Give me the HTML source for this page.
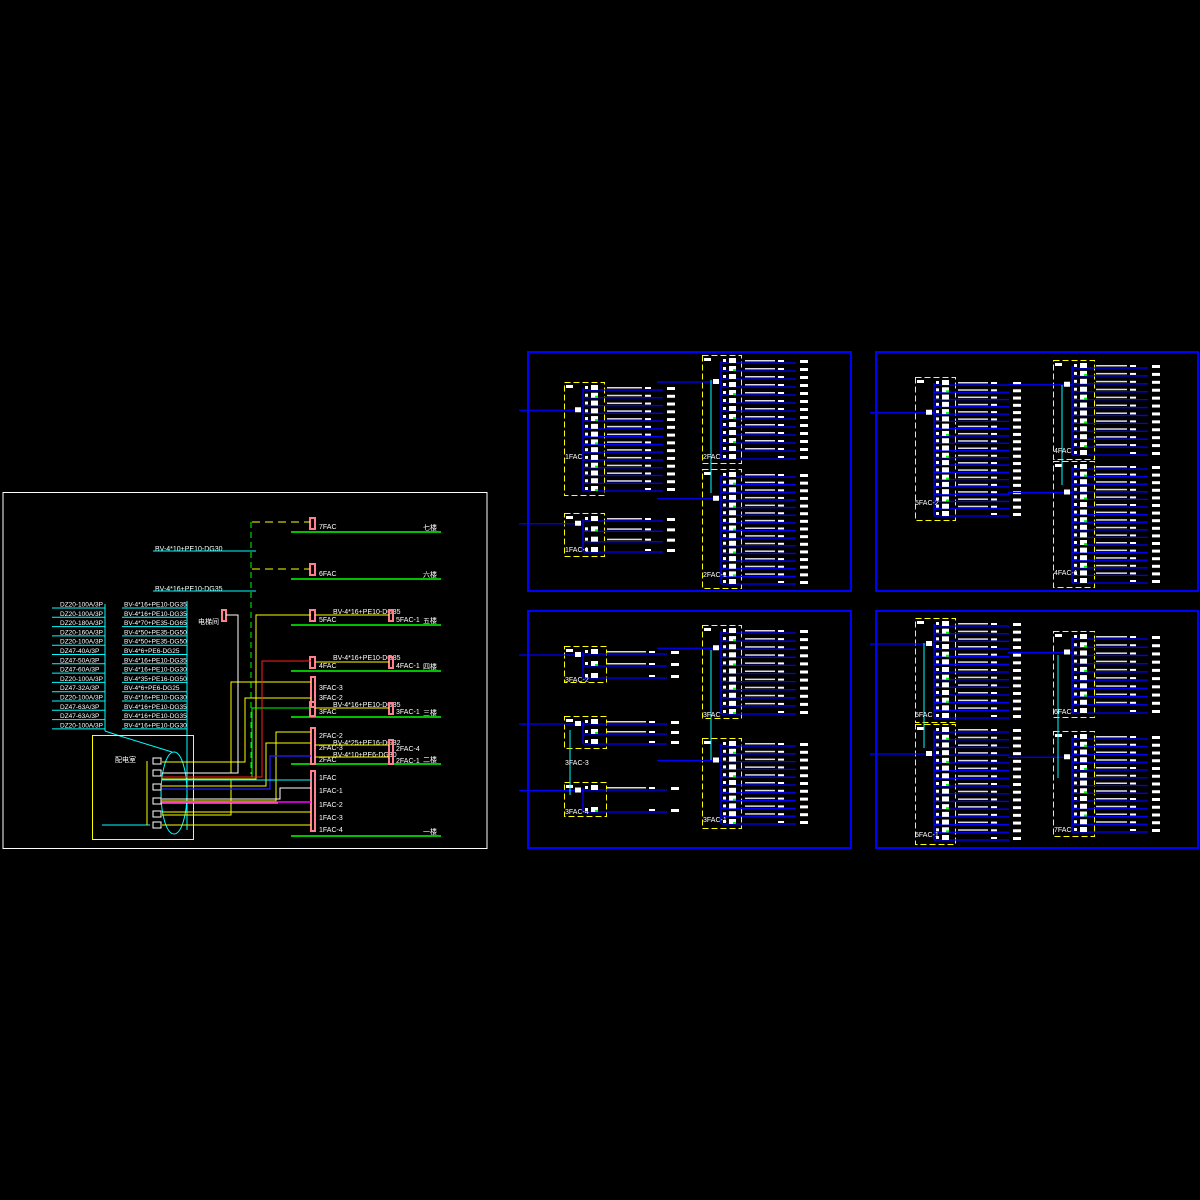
<!DOCTYPE html>
<html><head><meta charset="utf-8"><style>
html,body{margin:0;padding:0;background:#000;width:1200px;height:1200px;overflow:hidden}
svg{display:block}
text{font-family:"Liberation Sans","Noto Sans CJK SC",sans-serif;fill:#fff}
</style></head><body>
<svg id="s" width="1200" height="1200" viewBox="0 0 1200 1200" xmlns="http://www.w3.org/2000/svg">
<rect width="1200" height="1200" fill="#000"/>
<!-- LEFT PANEL -->
<rect x="3" y="492.5" width="484" height="356" fill="none" stroke="#fff" stroke-width="1"/>
<g stroke="#00ff00" stroke-width="1.5">
<line x1="291" y1="532" x2="441" y2="532"/><line x1="291" y1="579" x2="441" y2="579"/>
<line x1="291" y1="625" x2="441" y2="625"/><line x1="291" y1="671" x2="441" y2="671"/>
<line x1="291" y1="717" x2="441" y2="717"/><line x1="291" y1="764" x2="441" y2="764"/>
<line x1="291" y1="836" x2="441" y2="836"/>
</g>
<g font-size="7">
<text x="423" y="530">七楼</text><text x="423" y="577">六楼</text><text x="423" y="623">五楼</text>
<text x="423" y="669">四楼</text><text x="423" y="715">三楼</text><text x="423" y="762">二楼</text><text x="423" y="834">一楼</text>
<text x="319" y="529">7FAC</text><text x="319" y="576">6FAC</text><text x="319" y="622">5FAC</text>
<text x="319" y="668">4FAC</text><text x="319" y="714">3FAC</text><text x="319" y="762">2FAC</text>
<text x="319" y="780">1FAC</text><text x="319" y="793">1FAC-1</text><text x="319" y="807">1FAC-2</text>
<text x="319" y="820">1FAC-3</text><text x="319" y="832">1FAC-4</text>
<text x="319" y="690">3FAC-3</text><text x="319" y="700">3FAC-2</text><text x="319" y="738">2FAC-2</text><text x="319" y="750">2FAC-3</text>
<text x="396" y="622">5FAC-1</text><text x="396" y="668">4FAC-1</text><text x="396" y="714">3FAC-1</text>
<text x="396" y="751">2FAC-4</text><text x="396" y="763">2FAC-1</text>
<text x="333" y="614">BV-4*16+PE10-DG35</text><text x="333" y="660">BV-4*16+PE10-DG35</text>
<text x="333" y="707">BV-4*16+PE10-DG35</text><text x="333" y="745">BV-4*25+PE16-DG32</text><text x="333" y="757">BV-4*10+PE6-DG30</text>
<text x="155" y="551">BV-4*10+PE10-DG30</text><text x="155" y="591">BV-4*16+PE10-DG35</text>
<text x="198" y="624">电梯间</text><text x="115" y="762">配电室</text>
</g>
<g stroke="#ff7f8f" stroke-width="2" fill="none">
<rect x="310" y="518" width="5" height="11"/><rect x="310" y="564" width="5" height="11"/>
<rect x="310" y="610" width="5" height="11"/><rect x="310" y="657" width="5" height="11"/>
<rect x="311" y="677" width="4" height="30"/><rect x="310" y="702" width="5" height="14"/>
<rect x="311" y="728" width="4" height="36"/><rect x="311" y="771" width="4" height="60"/>
<rect x="389" y="610" width="4" height="11"/><rect x="389" y="657" width="4" height="11"/>
<rect x="389" y="703" width="4" height="11"/><rect x="389" y="740" width="4" height="24"/>
<rect x="222" y="610" width="4" height="11"/>
</g>
<g stroke="#00ff00" stroke-width="1" stroke-dasharray="6,4"><line x1="251" y1="522" x2="251" y2="774"/></g>
<g stroke="#ffff00" stroke-width="1" stroke-dasharray="8,5"><line x1="252" y1="522" x2="310" y2="522"/><line x1="252" y1="569" x2="310" y2="569"/></g>
<g stroke="#00ffff" stroke-width="1">
<line x1="153" y1="551" x2="256" y2="551"/><line x1="153" y1="591" x2="256" y2="591"/>
<line x1="105" y1="604" x2="105" y2="731"/><line x1="187" y1="601" x2="187" y2="830"/>
<polyline points="105,731 120,736 172,752" fill="none"/>
<ellipse cx="174" cy="793" rx="13" ry="41" fill="none"/>
<line x1="102" y1="825" x2="150" y2="825"/>
</g>
<g id="lst" font-size="6.5"></g>
<rect x="92.5" y="735.5" width="101" height="104" fill="none" stroke="#ffff00"/>
<g stroke="#ffff00" fill="none" stroke-width="1">
<line x1="147" y1="761" x2="147" y2="825"/>
<polyline points="162,762 245,762 245,698 311,698"/>
<polyline points="162,773 231,773 231,682 311,682"/>
<polyline points="162,786 266,786 266,743 311,743"/>
<polyline points="162,801 276,801 276,732 311,732"/>
<polyline points="162,815 231,815 231,780"/>
<line x1="162" y1="825" x2="311" y2="825"/>
<polyline points="162,779 256,779 256,615 311,615"/>
<line x1="315" y1="615" x2="389" y2="615"/><line x1="315" y1="662" x2="389" y2="662"/>
<line x1="315" y1="708" x2="389" y2="708"/><line x1="315" y1="745" x2="389" y2="745"/><line x1="315" y1="757" x2="389" y2="757"/>
<line x1="162" y1="803" x2="278" y2="803"/>
<line x1="162" y1="812" x2="311" y2="812"/>
</g>
<g stroke="#fff" fill="none"><polyline points="162,773 238,773 238,615 226,615"/><polyline points="162,799 280,799 280,788 311,788"/></g>
<polyline points="162,777 252,777 252,708 311,708" stroke="#00ff00" fill="none"/>
<polyline points="162,777 262,777 262,661 311,661" stroke="#ff2020" fill="none"/>
<polyline points="162,789 270,789 270,756 311,756" stroke="#2020ff" fill="none" stroke-width="1.2"/>
<line x1="162" y1="802" x2="311" y2="802" stroke="#ff00ff" stroke-width="1.5"/>
<line x1="162" y1="780" x2="311" y2="780" stroke="#00ffff"/>
<g id="brk" fill="none" stroke="#fff"></g>

<!-- PANEL FRAMES -->
<g fill="none" stroke="#0000ff" stroke-width="2">
<rect x="528" y="352" width="323" height="239"/><rect x="876" y="352" width="322" height="239"/>
<rect x="528" y="611" width="323" height="237"/><rect x="876" y="611" width="322" height="237"/>
</g>
<g id="pan"></g>
<g font-size="7">
<text x="565" y="459">1FAC</text><text x="565" y="552">1FAC-1</text>
<text x="703" y="459">2FAC</text><text x="703" y="577">2FAC-1</text>
<text x="915" y="505">5FAC-2</text><text x="1054" y="453">4FAC</text><text x="1054" y="575">4FAC-1</text>
<text x="565" y="682">3FAC-2</text><text x="565" y="765">3FAC-3</text><text x="565" y="814">3FAC-4</text>
<text x="703" y="717">3FAC</text><text x="703" y="822">3FAC-1</text>
<text x="915" y="717">5FAC</text><text x="915" y="837">5FAC-1</text><text x="1054" y="714">6FAC</text><text x="1054" y="832">7FAC</text>
</g>
</svg>
<script>
var NS="http://www.w3.org/2000/svg";
function el(p,t,a){var e=document.createElementNS(NS,t);for(var k in a)e.setAttribute(k,a[k]);p.appendChild(e);return e;}
var lst=document.getElementById('lst');
var L1=["DZ20-100A/3P","DZ20-100A/3P","DZ20-180A/3P","DZ20-160A/3P","DZ20-100A/3P","DZ47-40A/3P","DZ47-50A/3P","DZ47-60A/3P","DZ20-100A/3P","DZ47-32A/3P","DZ20-100A/3P","DZ47-63A/3P","DZ47-63A/3P","DZ20-100A/3P"];
var L2=["BV-4*16+PE10-DG35","BV-4*16+PE10-DG35","BV-4*70+PE35-DG65","BV-4*50+PE35-DG50","BV-4*50+PE35-DG50","BV-4*6+PE6-DG25","BV-4*16+PE10-DG35","BV-4*16+PE10-DG30","BV-4*35+PE16-DG50","BV-4*6+PE6-DG25","BV-4*16+PE10-DG30","BV-4*16+PE10-DG35","BV-4*16+PE10-DG35","BV-4*16+PE10-DG30"];
for(var i=0;i<14;i++){var y=608+i*9.3;
el(lst,'line',{x1:52,y1:y,x2:105,y2:y,stroke:'#0ff'});el(lst,'line',{x1:122,y1:y,x2:187,y2:y,stroke:'#0ff'});
var t=el(lst,'text',{x:60,y:y-1.5});t.textContent=L1[i];t=el(lst,'text',{x:124,y:y-1.5});t.textContent=L2[i];}
var brk=document.getElementById('brk');
[758,770,784,798,811,822].forEach(function(y){el(brk,'rect',{x:153,y:y,width:8,height:6});});
var pan=document.getElementById('pan');
function box(x,y,w,h,n,lineEnd){
 el(pan,'rect',{x:x+.5,y:y+.5,width:w,height:h,fill:'none',stroke:'#ff0','stroke-dasharray':'6,3'});
 var bx=x+19,top=y+6,st=(h-12)/(n-1);
 el(pan,'line',{x1:bx,y1:top,x2:bx,y2:y+h-4,stroke:'#00f','stroke-width':1.3});
 el(pan,'rect',{x:x+2,y:y+3,width:7,height:3,fill:'#fff'});
 for(var i=0;i<n;i++){var yy=top+i*st;
  el(pan,'line',{x1:bx,y1:yy+2,x2:lineEnd,y2:yy+2,stroke:'#00f','stroke-width':1.3});
  el(pan,'rect',{x:bx+2,y:yy-2,width:3,height:3,fill:'#fff'});
  el(pan,'rect',{x:bx+8,y:yy-3,width:7,height:5,fill:'#fff'});
  if(i%3==1)el(pan,'rect',{x:bx+12,y:yy,width:3,height:2,fill:'#0f0'});
  if(i<n-1)el(pan,'rect',{x:bx+24,y:yy-1,width:lineEnd-bx-45,height:1.5,fill:'#ddd'});
  el(pan,'rect',{x:lineEnd-18,y:yy-1,width:6,height:2,fill:'#fff'});
  el(pan,'rect',{x:lineEnd+4,y:yy-1,width:8,height:3,fill:'#fff'});}
 el(pan,'line',{x1:x-45,y1:y+h*0.25,x2:bx,y2:y+h*0.25,stroke:'#00f','stroke-width':1.3});
 el(pan,'rect',{x:bx-8,y:y+h*0.25-3,width:6,height:5,fill:'#fff'});
}
box(564,382,40,113,14,663);box(564,513,40,43,4,663);
box(702,355,39,108,13,796);box(702,469,39,119,15,796);
el(pan,'line',{x1:711,y1:380,x2:711,y2:493,stroke:'#0ff'});
box(915,377,40,143,19,1009);box(1053,360,41,99,12,1148);box(1053,461,41,126,16,1148);
el(pan,'line',{x1:1062,y1:385,x2:1062,y2:485,stroke:'#0ff'});
box(564,646,42,36,3,667);box(564,716,42,32,3,667);box(564,782,42,34,2,667);
el(pan,'line',{x1:570,y1:730,x2:570,y2:795,stroke:'#0ff'});
box(702,625,39,93,11,796);box(702,738,39,90,11,796);
el(pan,'line',{x1:711,y1:650,x2:711,y2:760,stroke:'#0ff'});
box(915,618,40,104,13,1009);box(915,724,40,120,15,1009);
el(pan,'line',{x1:924,y1:643,x2:924,y2:748,stroke:'#0ff'});
box(1053,631,41,86,10,1148);box(1053,731,41,105,13,1148);
el(pan,'line',{x1:1058,y1:655,x2:1058,y2:778,stroke:'#0ff'});
</script>
</body></html>
